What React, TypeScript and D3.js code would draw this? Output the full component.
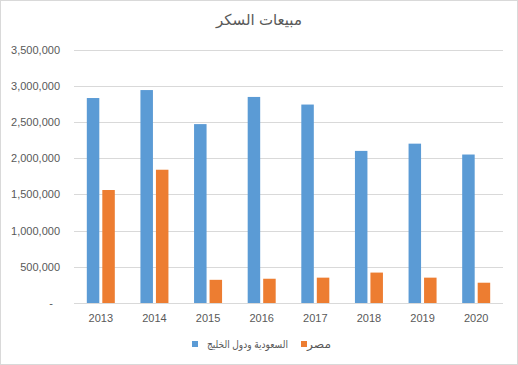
import React, { useRef, useEffect } from 'react';
import * as d3 from 'd3';

const years = ['2013', '2014', '2015', '2016', '2017', '2018', '2019', '2020'];
const gulfSales = [2830000, 2940000, 2470000, 2845000, 2740000, 2100000, 2200000, 2050000];
const egyptSales = [1560000, 1840000, 320000, 335000, 350000, 420000, 350000, 280000];
const seriesNames = ['السعودية ودول الخليج', 'مصر'];
const seriesColors = ['#5b9bd5', '#ed7d31'];
const yTicks = [0, 500000, 1000000, 1500000, 2000000, 2500000, 3000000, 3500000];
const title = 'مبيعات السكر';

const W = 518;
const H = 365;

export default function App() {
  const ref = useRef<SVGSVGElement | null>(null);

  useEffect(() => {
    if (!ref.current) return;
    const svg = d3.select(ref.current);
    svg.selectAll('*').remove();

    const font = '"Liberation Sans", "DejaVu Sans", sans-serif';
    const margin = { top: 49.5, right: 15, bottom: 62, left: 74 };

    svg.append('rect')
      .attr('x', 0.5).attr('y', 0.5)
      .attr('width', W - 1).attr('height', H - 1)
      .attr('fill', '#fff').attr('stroke', '#d9d9d9');

    const x = d3.scaleBand().domain(years).range([margin.left, W - margin.right]);
    const y = d3.scaleLinear().domain([0, 3500000]).range([H - margin.bottom, margin.top]);

    // gridlines
    svg.append('g').selectAll('line').data(yTicks).join('line')
      .attr('x1', margin.left).attr('x2', W - margin.right)
      .attr('y1', d => Math.round(y(d)) + 0.5).attr('y2', d => Math.round(y(d)) + 0.5)
      .attr('stroke', '#d9d9d9').attr('stroke-width', 1);

    // y labels
    const fmt = d3.format(',');
    svg.append('g').selectAll('text').data(yTicks).join('text')
      .attr('x', d => (d === 0 ? 53 : 60))
      .attr('y', d => y(d) + 4)
      .attr('text-anchor', 'end')
      .attr('font-family', font).attr('font-size', 11).attr('fill', '#595959')
      .text(d => (d === 0 ? '-' : fmt(d)));

    // bars
    const barW = 12.5;
    const gap = 3;
    const series = [gulfSales, egyptSales];
    series.forEach((vals, si) => {
      svg.append('g').selectAll('rect').data(vals).join('rect')
        .attr('x', (d, i) => x(years[i])! + x.bandwidth() / 2 - barW - gap / 2 + si * (barW + gap))
        .attr('y', d => y(d))
        .attr('width', barW)
        .attr('height', d => y(0) - y(d))
        .attr('fill', seriesColors[si]);
    });

    // x labels
    svg.append('g').selectAll('text').data(years).join('text')
      .attr('x', d => x(d)! + x.bandwidth() / 2)
      .attr('y', 322)
      .attr('text-anchor', 'middle')
      .attr('font-family', font).attr('font-size', 11).attr('fill', '#595959')
      .text(d => d);

    // title
    svg.append('text')
      .attr('x', 259).attr('y', 25)
      .attr('text-anchor', 'middle')
      .attr('font-family', font).attr('font-size', 15).attr('fill', '#595959')
      .text(title);

    // legend
    const legend = [
      { sx: 192, tx: 288, w: 81, name: seriesNames[0], color: seriesColors[0] },
      { sx: 301, tx: 331, w: 24, name: seriesNames[1], color: seriesColors[1] },
    ];
    legend.forEach(l => {
      svg.append('rect')
        .attr('x', l.sx).attr('y', 341)
        .attr('width', 6).attr('height', 6)
        .attr('fill', l.color);
      svg.append('text')
        .attr('x', l.tx - l.w).attr('y', 348)
        .attr('text-anchor', 'start')
        .attr('textLength', l.w)
        .attr('lengthAdjust', 'spacingAndGlyphs')
        .attr('font-family', font).attr('font-size', 10.5).attr('fill', '#595959')
        .text(l.name);
    });
  }, []);

  return (
    <div style={{ position: 'absolute', left: 0, top: 0 }}>
      <svg ref={ref} width={W} height={H} />
    </div>
  );
}
